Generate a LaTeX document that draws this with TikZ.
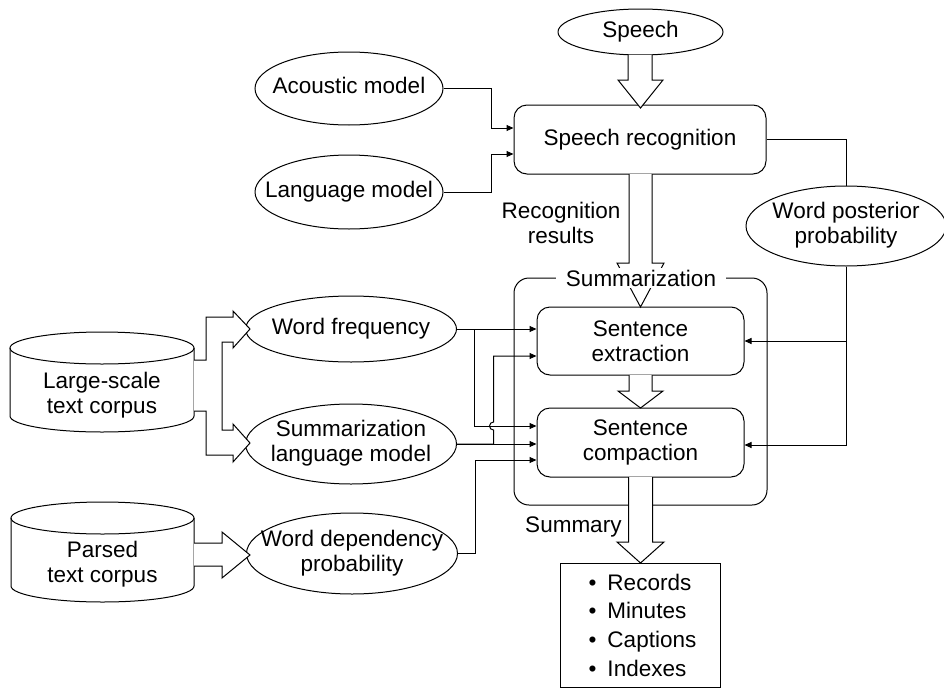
\documentclass[tikz,border=0pt]{standalone}
\usepackage{fontspec}
\setmainfont{Liberation Sans}
\usetikzlibrary{arrows.meta,shapes.geometric,calc}
\newcommand{\zw}[1]{\makebox[0pt]{\begin{tabular}{@{}c@{}}#1\end{tabular}}}
\begin{document}
\begin{tikzpicture}[x=1pt,y=-1pt, line width=1pt,
  every node/.style={font=\fontsize{22.5}{25}\selectfont, inner sep=0pt},
  ell/.style={draw, ellipse, inner sep=0pt},
  rbox/.style={draw, rounded corners=13pt, align=center},
  arr/.style={-{Triangle[length=7pt,width=6pt]}},
  blk/.style={draw, fill=white, line join=miter}]
\useasboundingbox (0,0) rectangle (944,688);

% nodes
\node[ell, minimum width=165pt, minimum height=46pt] (sp) at (640.5,32) {\zw{Speech}};
\node[ell, minimum width=188pt, minimum height=73pt] (am) at (349,88.5) {\zw{Acoustic model}};
\node[ell, minimum width=188pt, minimum height=74pt] (lm0) at (349,192) {\zw{Language model}};
\node[rbox, minimum width=252pt, minimum height=69pt] (sr) at (640,139.5) {Speech recognition};
\node[ell, minimum width=200pt, minimum height=80pt] (wp) at (846,226) {\zw{Word posterior\\probability}};
\node[align=center] (rr) at (561,223) {Recognition\\results};
\node[draw, rounded corners=15pt, minimum width=253pt, minimum height=227pt] (sb) at (640.5,391.5) {};
\node[rbox, minimum width=207pt, minimum height=68pt] (ex) at (640.5,341) {Sentence\\extraction};
\node[rbox, minimum width=207pt, minimum height=69pt] (cp) at (640.5,442.5) {Sentence\\compaction};
\node[ell, minimum width=211pt, minimum height=66pt] (wf) at (351,329) {\zw{Word frequency}};
\node[ell, minimum width=211pt, minimum height=80pt] (slm) at (351,444) {\zw{Summarization\\language model}};
\node[ell, minimum width=211pt, minimum height=81pt] (wd) at (352,553.5) {\zw{Word dependency\\probability}};
\node[align=center] (lsc) at (102,395) {Large-scale\\text corpus};
\node[align=center] (pc) at (102.5,564.5) {Parsed\\text corpus};
\node[draw, minimum width=160pt, minimum height=124pt] (out) at (640,625) {};
\node[anchor=west, align=left, font=\fontsize{22.5}{28.7}\selectfont] (lst) at (588,625)
  {\makebox[19pt][l]{•}Records\\\makebox[19pt][l]{•}Minutes\\\makebox[19pt][l]{•}Captions\\\makebox[19pt][l]{•}Indexes};
\node[anchor=east] (sum) at (622,527) {Summary};

% cylinders
\draw (102,348) ellipse [x radius=92, y radius=16];
\draw (10,348) -- (10,416) arc[start angle=180, end angle=0, x radius=92, y radius=16] -- (194,348);
\draw (102.5,518) ellipse [x radius=91.5, y radius=16];
\draw (11,518) -- (11,586) arc[start angle=180, end angle=0, x radius=91.5, y radius=16] -- (194,518);

% block arrows
\draw[blk] (628,55) -- (628,80) -- (618,80) -- (640.5,108) -- (663,80) -- (652,80) -- (652,55);
\draw[blk] (629,174) -- (629,263) -- (617,263) -- (640.5,307) -- (664,263) -- (652,263) -- (652,174);
\draw[blk] (629,375) -- (629,391) -- (618,391) -- (640.5,408) -- (663,391) -- (652,391) -- (652,375);
\draw[blk] (628.5,477) -- (628.5,542) -- (617,542) -- (640.5,563) -- (664,542) -- (652.5,542) -- (652.5,477);
\draw[blk] (194,360) -- (206,360) -- (206,317) -- (233,317) -- (233,311) -- (250,329) -- (233,348)
  -- (233,342) -- (222,342) -- (222,430) -- (233,430) -- (233,424) -- (250,443) -- (233,462)
  -- (233,455) -- (206,455) -- (206,411) -- (194,411);
\draw[blk] (194,543) -- (222,543) -- (222,532) -- (250,555) -- (222,578) -- (222,566) -- (194,566);

\node[fill=white, inner xsep=10pt, inner ysep=2pt] (sl) at (641,278) {Summarization};

% connectors
\draw[arr] (am.east) -- ++(48,0) |- ($(sr.west)+(0,-11.5)$);
\draw[arr] (lm0.east) -- ++(48,0) |- ($(sr.west)+(0,14.5)$);
\draw (sr.east) -| (wp.north);
\draw[arr] (wp.south) |- (ex.east);
\draw[arr] (wp.south) |- ($(cp.east)+(0,2.5)$);
\draw[arr] (wf.east) -- (ex.west |- wf.east);
\draw[arr] (wf.east) -- ++(17.5,0) |- ($(cp.west)+(0,-16.5)$);
\draw[arr] (slm.east) -- (cp.west |- slm.east);
\draw[arr] (slm.east) -- ++(36.5,0) -- ++(0,-14) arc[start angle=90, end angle=270, radius=4] |- ($(ex.west)+(0,15)$);
\draw[arr] (wd.east) -- ++(17,0) |- ($(cp.west)+(0,17.5)$);
\end{tikzpicture}
\end{document}
